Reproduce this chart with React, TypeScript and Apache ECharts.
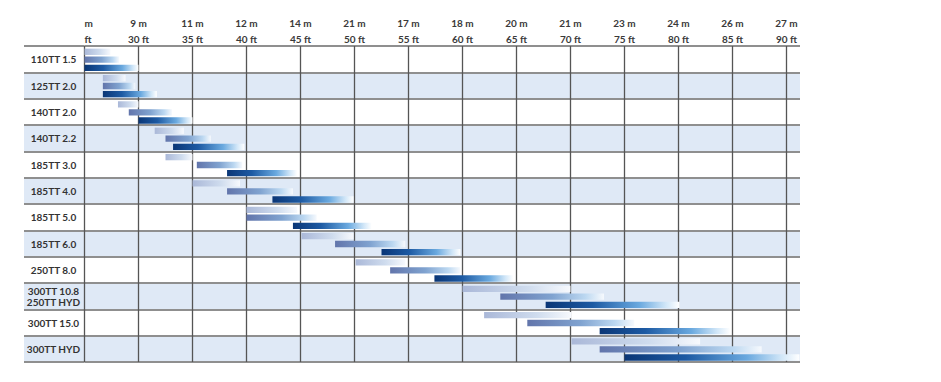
import React, { useEffect, useRef } from "react";
import * as echarts from "echarts";

const categories = [
  "110TT 1.5",
  "125TT 2.0",
  "140TT 2.0",
  "140TT 2.2",
  "185TT 3.0",
  "185TT 4.0",
  "185TT 5.0",
  "185TT 6.0",
  "250TT 8.0",
  "300TT 10.8\n250TT HYD",
  "300TT 15.0",
  "300TT HYD",
];

const feetTicks = [25, 30, 35, 40, 45, 50, 55, 60, 65, 70, 75, 80, 85, 90];
const metreLabels = ["m", "9 m", "11 m", "12 m", "14 m", "21 m", "17 m", "18 m", "20 m", "21 m", "23 m", "24 m", "26 m", "27 m"];
const feetLabels = ["ft", "30 ft", "35 ft", "40 ft", "45 ft", "50 ft", "55 ft", "60 ft", "65 ft", "70 ft", "75 ft", "80 ft", "85 ft", "90 ft"];

// [start ft, end ft] per category, three tiers
const lightRanges = [
  [25, 27.4], [26.7, 28.8], [28.1, 30.0], [31.5, 34.2], [32.5, 35.0], [35.0, 39.4],
  [40.0, 44.7], [45.1, 49.9], [50.1, 54.7], [60.0, 70.0], [62.0, 70.1], [70.1, 82.0],
];
const midRanges = [
  [25, 28.2], [26.7, 29.7], [29.1, 33.1], [32.5, 36.7], [35.4, 39.6], [38.2, 44.3],
  [40.0, 46.5], [48.2, 54.7], [53.3, 59.8], [63.5, 73.1], [66.0, 75.9], [72.7, 87.7],
];
const darkRanges = [
  [25, 30.0], [26.7, 31.7], [30.0, 35.0], [33.2, 39.8], [38.2, 44.7], [42.4, 49.9],
  [44.3, 51.6], [52.5, 59.8], [57.4, 64.7], [67.7, 80.1], [72.7, 84.8], [75.0, 91.2],
];

const FONT = "Lato";

function makeSeries(name: string, ranges: number[][], offset: number, stops: { offset: number; color: string }[]) {
  return {
    type: "custom",
    name,
    xAxisIndex: 0,
    yAxisIndex: 0,
    z: 5,
    data: ranges.map((r, i) => [i, r[0], r[1]]),
    encode: { x: [1, 2], y: 0 },
    renderItem: (params: any, api: any) => {
      const cat = api.value(0);
      const p0 = api.coord([api.value(1), cat]);
      const p1 = api.coord([api.value(2), cat]);
      const band = api.size([0, 1])[1];
      const h = band * 0.24;
      const y = p0[1] + offset * band - h / 2;
      return {
        type: "rect",
        shape: { x: p0[0], y, width: p1[0] - p0[0], height: h },
        style: { fill: new echarts.graphic.LinearGradient(0, 0, 1, 0, stops) },
      };
    },
  };
}

export default function App() {
  const ref = useRef<HTMLDivElement>(null);
  useEffect(() => {
    if (!ref.current) return;
    const chart = echarts.init(ref.current, undefined, { renderer: "svg" });
    const gridTop = 46;
    const gridHeight = 316;
    const splitArea = { show: true, areaStyle: { color: ["#ffffff", "#dfe9f6"] } };
    const splitLine = { show: true, lineStyle: { color: "#8f8f8f", width: 2 } };
    chart.setOption({
      animation: false,
      backgroundColor: "#ffffff",
      grid: [
        { left: 84.5, right: 141, top: gridTop, height: gridHeight },
        { left: 24, width: 60.5, top: gridTop, height: gridHeight },
      ],
      xAxis: [
        {
          type: "value",
          gridIndex: 0,
          position: "top",
          min: 25,
          max: 91.25,
          interval: 5,
          z: 2,
          axisLine: { show: false },
          axisTick: { show: false },
          splitLine: { show: true, showMaxLine: false, lineStyle: { color: "#555555", width: 1.3 } },
          axisLabel: {
            margin: -1,
            fontSize: 10,
            lineHeight: 16,
            fontFamily: FONT,
            fontWeight: "bold",
            color: "#3a3a3a",
            alignMinLabel: "left",
            showMaxLabel: false,
            formatter: (v: number) => {
              const i = feetTicks.indexOf(Math.round(v * 100) / 100);
              if (i < 0) return "";
              return metreLabels[i] + "\n" + feetLabels[i];
            },
          },
        },
        { type: "value", gridIndex: 1, min: 0, max: 1, show: false },
      ],
      yAxis: [
        {
          type: "category",
          gridIndex: 0,
          inverse: true,
          data: categories,
          z: 1,
          axisLine: { show: false },
          axisTick: { show: false },
          splitArea,
          splitLine,
          axisLabel: {
            align: "center",
            margin: 31,
            fontSize: 10,
            lineHeight: 11,
            fontFamily: FONT,
            fontWeight: "bold",
            color: "#333333",
          },
        },
        {
          type: "category",
          gridIndex: 1,
          inverse: true,
          data: categories,
          z: -1,
          axisLine: { show: false },
          axisTick: { show: false },
          axisLabel: { show: false },
          splitArea,
          splitLine,
        },
      ],
      series: [
        makeSeries("light", lightRanges, -0.28, [
          { offset: 0, color: "#aab8d8" },
          { offset: 0.6, color: "#cfdcee" },
          { offset: 1, color: "#f7f9fd" },
        ]),
        makeSeries("mid", midRanges, 0.02, [
          { offset: 0, color: "#6275ab" },
          { offset: 0.5, color: "#80a3d0" },
          { offset: 0.82, color: "#bcd8f1" },
          { offset: 1, color: "#f6f9fd" },
        ]),
        makeSeries("dark", darkRanges, 0.33, [
          { offset: 0, color: "#0a3676" },
          { offset: 0.35, color: "#1d5aa3" },
          { offset: 0.7, color: "#6aa9df" },
          { offset: 0.9, color: "#d2e7f8" },
          { offset: 1, color: "#ffffff" },
        ]),
      ],
    });
    return () => chart.dispose();
  }, []);
  return <div ref={ref} style={{ position: "fixed", left: 0, top: 0, width: 941, height: 382 }} />;
}
